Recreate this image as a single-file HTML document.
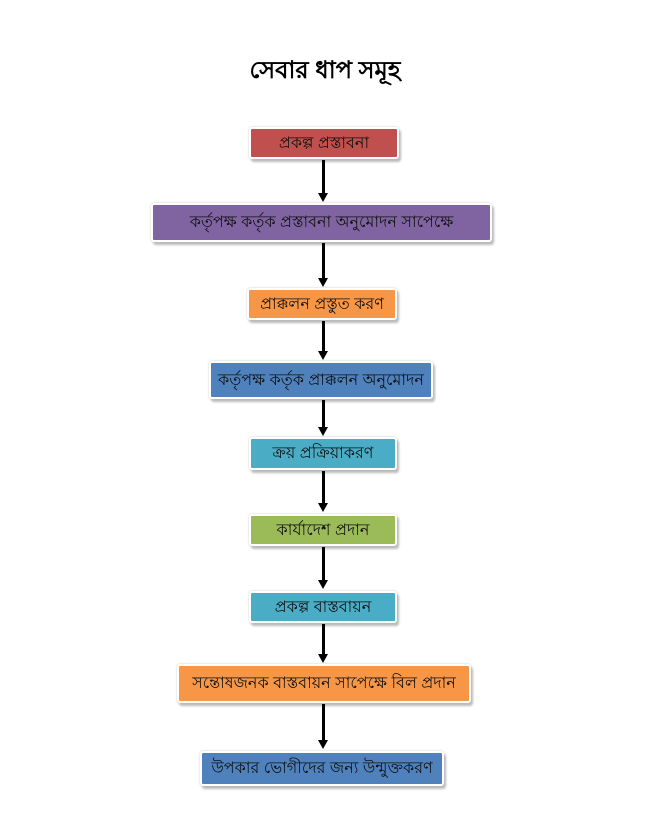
<!DOCTYPE html>
<html><head><meta charset="utf-8"><style>
body{margin:0;width:650px;height:836px;background:#fff;position:relative;font-family:"Liberation Sans","Noto Sans CJK SC",sans-serif;overflow:hidden}
.t{position:absolute;left:0;width:650px;top:52px;text-align:center;font-size:24px;font-weight:bold;color:#000}
.b{position:absolute;box-sizing:border-box;border:2px solid #fff;border-radius:3px;box-shadow:2px 3px 2px #bbb,0 0 2px #ccc;display:flex;align-items:center;justify-content:center;font-size:16px;color:#111}
.a{position:absolute;left:322px;width:3px;background:#000}
.h{position:absolute;left:318px;width:0;height:0;border-left:5.5px solid transparent;border-right:5.5px solid transparent;border-top:9px solid #000}
</style></head><body>
<div class="t">সেবার ধাপ সমূহ</div>
<div class="b" style="left:249px;top:127px;width:150px;height:32px;background:#c0504d">প্রকল্প প্রস্তাবনা</div>
<div class="b" style="left:151px;top:203px;width:341px;height:39px;background:#8064a2">কর্তৃপক্ষ কর্তৃক প্রস্তাবনা অনুমোদন সাপেক্ষে</div>
<div class="b" style="left:247px;top:288px;width:150px;height:32px;background:#f79646">প্রাক্কলন প্রস্তুত করণ</div>
<div class="b" style="left:209px;top:361px;width:224px;height:38px;background:#4f81bd">কর্তৃপক্ষ কর্তৃক প্রাক্কলন অনুমোদন</div>
<div class="b" style="left:249px;top:437px;width:148px;height:33px;background:#4bacc6">ক্রয় প্রক্রিয়াকরণ</div>
<div class="b" style="left:249px;top:514px;width:148px;height:32px;background:#9bbb59">কার্যাদেশ প্রদান</div>
<div class="b" style="left:249px;top:591px;width:148px;height:32px;background:#4bacc6">প্রকল্প বাস্তবায়ন</div>
<div class="b" style="left:177px;top:664px;width:294px;height:39px;background:#f79646">সন্তোষজনক বাস্তবায়ন সাপেক্ষে বিল প্রদান</div>
<div class="b" style="left:200px;top:751px;width:244px;height:35px;background:#4f81bd">উপকার ভোগীদের জন্য উন্মুক্তকরণ</div>
<div class="a" style="top:160px;height:34px"></div><div class="h" style="top:193px"></div>
<div class="a" style="top:243px;height:36px"></div><div class="h" style="top:278px"></div>
<div class="a" style="top:321px;height:31px"></div><div class="h" style="top:351px"></div>
<div class="a" style="top:400px;height:28px"></div><div class="h" style="top:427px"></div>
<div class="a" style="top:471px;height:33px"></div><div class="h" style="top:503px"></div>
<div class="a" style="top:547px;height:34px"></div><div class="h" style="top:580px"></div>
<div class="a" style="top:624px;height:31px"></div><div class="h" style="top:654px"></div>
<div class="a" style="top:704px;height:37px"></div><div class="h" style="top:740px"></div>
</body></html>
